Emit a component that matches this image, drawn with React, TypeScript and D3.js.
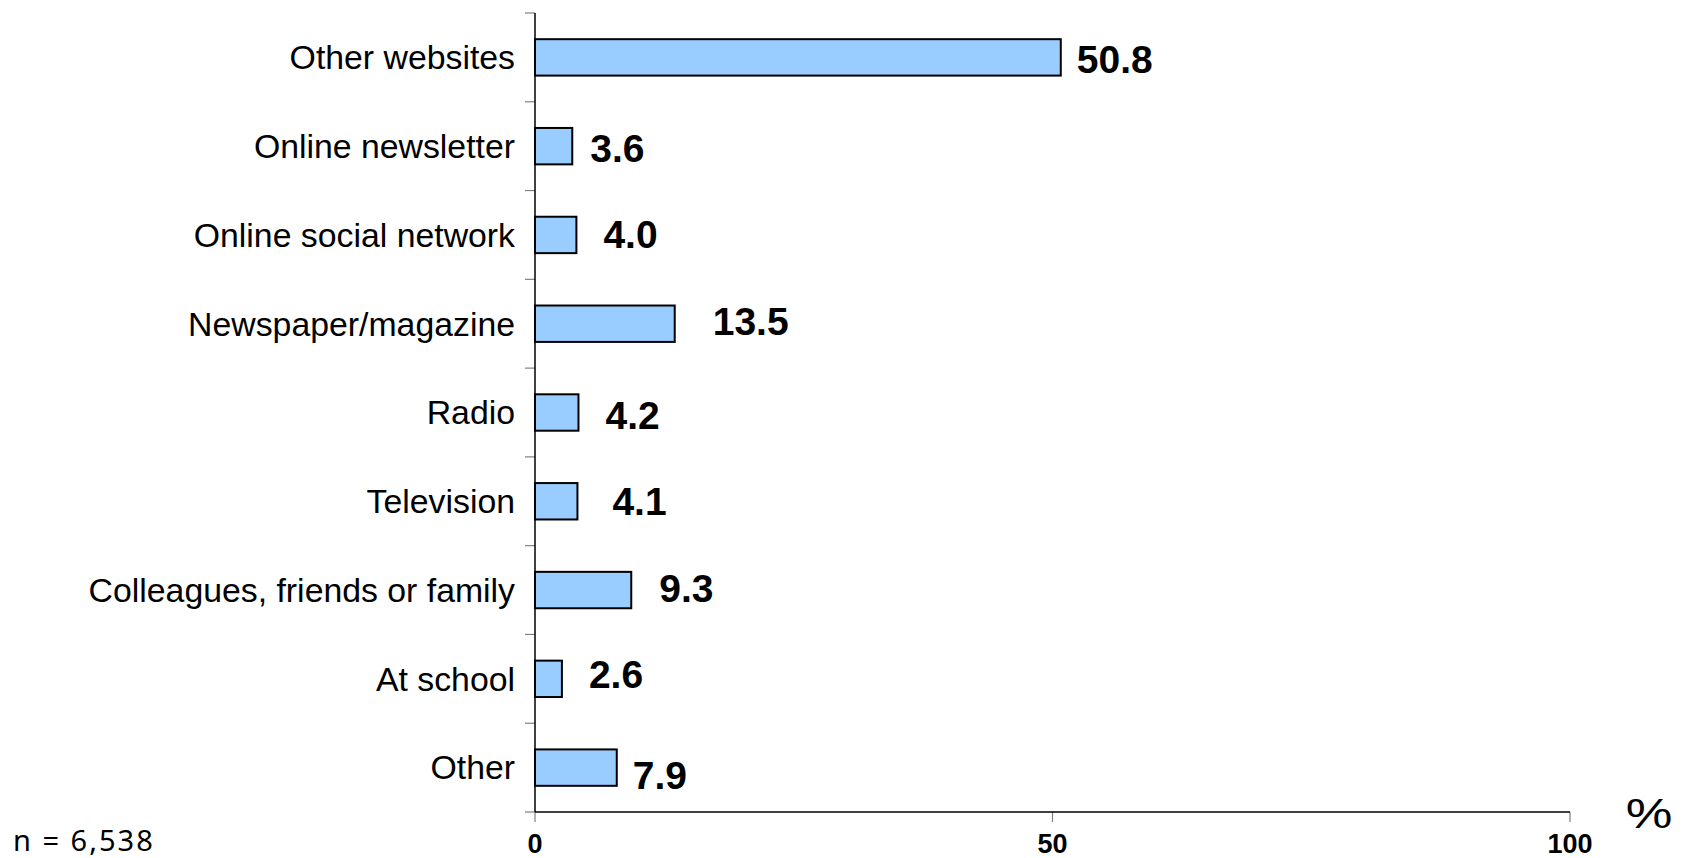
import React from "react";
import * as d3 from "d3";

const categories = [
  "Other websites",
  "Online newsletter",
  "Online social network",
  "Newspaper/magazine",
  "Radio",
  "Television",
  "Colleagues, friends or family",
  "At school",
  "Other",
];
const values = [50.8, 3.6, 4.0, 13.5, 4.2, 4.1, 9.3, 2.6, 7.9];
const xTicks = [0, 50, 100];
const sampleNote = "n = 6,538";
const unitLabel = "%";

// label nudges (layout only, in px)
const labelGap = [16, 18, 27, 38, 27, 35, 28, 27, 16];
const labelDy = [2, 2, -1, -3, 2, 0, -2, -5, 7];

const W = 1684;
const H = 858;
const axisX = 535;
const axisRight = 1570;
const top = 13;
const bottom = 812;

export default function App() {
  const x = d3.scaleLinear().domain([0, 100]).range([axisX, axisRight]);
  const y = d3
    .scaleBand<string>()
    .domain(categories)
    .range([top, bottom])
    .paddingInner(0.59)
    .paddingOuter(0.295);
  const step = (bottom - top) / categories.length;
  const boundaries = d3.range(categories.length + 1).map((i) => top + i * step);
  const font = "'Liberation Sans', Arial, sans-serif";

  return (
    <svg
      width={W}
      height={H}
      style={{ position: "absolute", left: 0, top: 0, background: "#fff" }}
    >
      {/* y axis ticks */}
      {boundaries.map((b, i) => (
        <line key={"yt" + i} x1={axisX - 10} x2={axisX} y1={b} y2={b} stroke="#808080" strokeWidth={1.2} />
      ))}
      {/* x axis ticks */}
      {xTicks.map((t) => (
        <line key={"xt" + t} x1={x(t)} x2={x(t)} y1={bottom} y2={bottom + 10} stroke="#808080" strokeWidth={1.2} />
      ))}
      {/* bars */}
      {categories.map((c, i) => (
        <rect
          key={c}
          x={x(0)}
          y={y(c)!}
          width={x(values[i]) - x(0)}
          height={y.bandwidth()}
          fill="#99CCFF"
          stroke="#000"
          strokeWidth={2}
        />
      ))}
      {/* axes */}
      <line x1={axisX} x2={axisX} y1={top} y2={bottom} stroke="#000" strokeWidth={1.5} />
      <line x1={axisX} x2={axisRight} y1={bottom} y2={bottom} stroke="#000" strokeWidth={1.5} />
      {/* category labels */}
      {categories.map((c) => (
        <text
          key={"l" + c}
          x={axisX - 20}
          y={y(c)! + y.bandwidth() / 2}
          dy="0.35em"
          textAnchor="end"
          fontFamily={font}
          fontSize={33.8}
          fill="#000"
        >
          {c}
        </text>
      ))}
      {/* value labels */}
      {categories.map((c, i) => (
        <text
          key={"v" + c}
          x={x(values[i]) + labelGap[i]}
          y={y(c)! + y.bandwidth() / 2 + labelDy[i]}
          dy="0.36em"
          fontFamily={font}
          fontWeight="bold"
          fontSize={39}
          fill="#000"
        >
          {values[i].toFixed(1)}
        </text>
      ))}
      {/* x tick labels */}
      {xTicks.map((t) => (
        <text
          key={"xl" + t}
          x={x(t)}
          y={853}
          textAnchor="middle"
          fontFamily={font}
          fontWeight="bold"
          fontSize={27}
          fill="#000"
        >
          {t}
        </text>
      ))}
      <text
        transform="translate(1649,828) scale(1.25,1)"
        textAnchor="middle"
        fontFamily={font}
        fontSize={42}
        fill="#000"
      >
        {unitLabel}
      </text>
      <text x={13} y={851} fontFamily="'Noto Sans', sans-serif" fontSize={29} fill="#000" letterSpacing={2}>
        {sampleNote}
      </text>
    </svg>
  );
}
